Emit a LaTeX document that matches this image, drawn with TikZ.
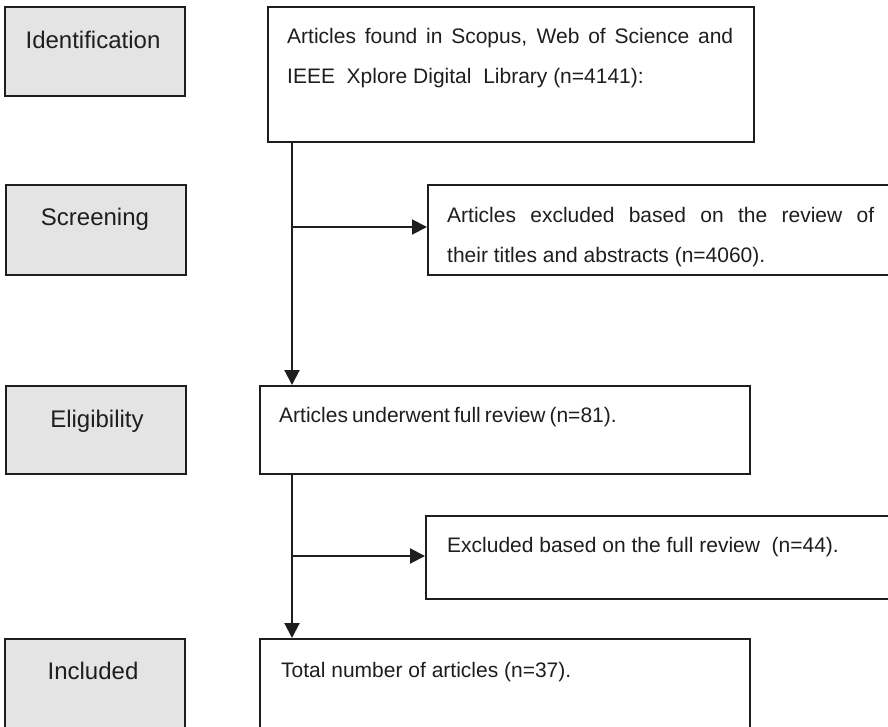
\documentclass[tikz,border=0pt]{standalone}
\usepackage{fontspec}
\setmainfont{Liberation Sans}
\usetikzlibrary{arrows.meta}
\definecolor{labelgray}{HTML}{E4E4E4}
\definecolor{inkc}{HTML}{1E1E1E}
\tikzset{
  stagebox/.style={draw=inkc, line width=2pt, fill=labelgray, rectangle, inner sep=0pt, minimum width=180pt},
  flowbox/.style={draw=inkc, line width=2pt, fill=white, rectangle, inner sep=0pt},
  stagetxt/.style={anchor=base, inner sep=0pt, text=inkc, font=\fontsize{24}{28}\selectfont},
  boxtxt/.style={anchor=base west, inner sep=0pt, text=inkc, font=\fontsize{21}{25}\selectfont},
  arr/.style={draw=inkc, line width=2pt, -{Triangle[length=15pt,width=15pt]}}
}
\begin{document}
\begin{tikzpicture}[x=1pt,y=-1pt]
\path[use as bounding box] (0,0) rectangle (888,726);
\clip (0,0) rectangle (888,726);
% stage boxes
\node[stagebox, minimum height=89pt] (ident) at (95,51.5) {};
\node[stagebox, minimum height=90pt] (screen) at (96,230) {};
\node[stagebox, minimum height=88pt] (elig) at (96,430) {};
\node[stagebox, minimum height=90pt] (incl) at (95,684) {};
\node[stagetxt] (identt) at (93,48) {Identification};
\node[stagetxt] (screent) at (95,225) {Screening};
\node[stagetxt] (eligt) at (97,427) {Eligibility};
\node[stagetxt] (inclt) at (93,679) {Included};
% flow boxes
\node[flowbox, minimum width=486pt, minimum height=135pt] (A) at (511,74.5) {};
\node[flowbox, minimum width=472pt, minimum height=90pt] (B) at (664,230) {};
\node[flowbox, minimum width=490pt, minimum height=88pt] (C) at (505,430) {};
\node[flowbox, minimum width=474pt, minimum height=83pt] (D) at (663,557.5) {};
\node[flowbox, minimum width=490pt, minimum height=101pt] (E) at (505,689.5) {};
% texts
\node[boxtxt] (A1) at (287,43) {\makebox[446pt][s]{Articles found in Scopus, Web of Science and}};
\node[boxtxt] (A2) at (287,83) {IEEE\ \ Xplore Digital\ \ Library (n=4141):};
\node[boxtxt] (B1) at (447,222) {\makebox[427pt][s]{Articles excluded based on the review of}};
\node[boxtxt] (B2) at (447,262) {their titles and abstracts (n=4060).};
\node[boxtxt] (C1) at (279,422) {\spaceskip=4pt Articles underwent full review (n=81).};
\node[boxtxt] (D1) at (447,552) {Excluded based on the full review\ \ (n=44).};
\node[boxtxt] (E1) at (281,677) {Total number of articles (n=37).};
% connectors
\coordinate (t1) at ([xshift=25pt]A.south west);
\coordinate (t2) at ([xshift=33pt]C.south west);
\draw[arr] (t1) -- (t1 |- C.north);
\draw[arr] ([yshift=3pt]B.west -| t1) -- ([yshift=3pt]B.west);
\draw[arr] (t2) -- (t2 |- E.north);
\draw[arr] ([yshift=1.5pt]D.west -| t2) -- ([yshift=1.5pt]D.west);
\end{tikzpicture}
\end{document}
